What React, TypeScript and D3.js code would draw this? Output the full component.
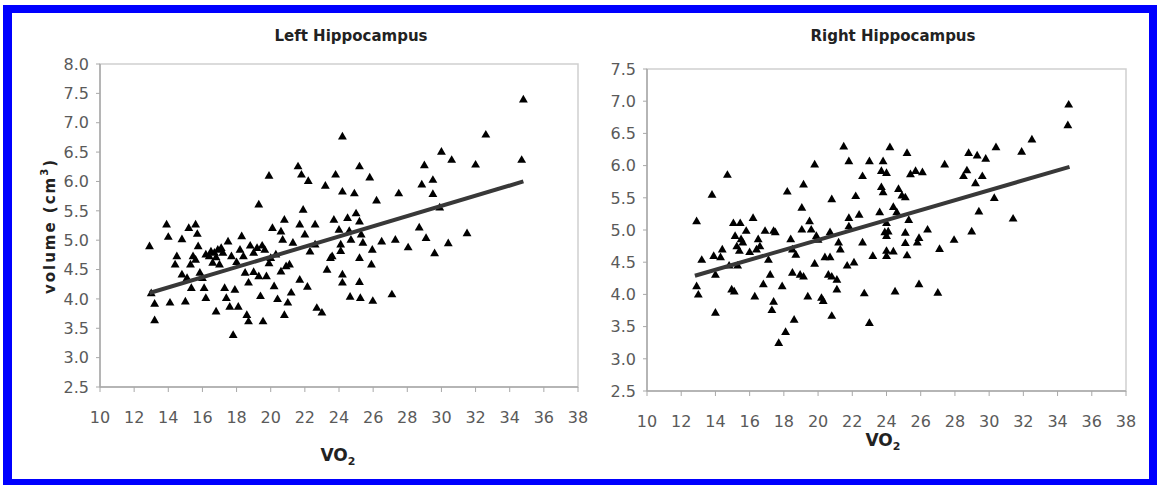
import React from 'react';
import * as d3 from 'd3';

// axis ticks
const xTicks = [10, 12, 14, 16, 18, 20, 22, 24, 26, 28, 30, 32, 34, 36, 38];
const leftYTicks = [2.5, 3.0, 3.5, 4.0, 4.5, 5.0, 5.5, 6.0, 6.5, 7.0, 7.5, 8.0];
const rightYTicks = [2.5, 3.0, 3.5, 4.0, 4.5, 5.0, 5.5, 6.0, 6.5, 7.0, 7.5];

// VO2 vs left hippocampus volume (cm3)
const leftPoints: [number, number][] = [
  [12.9, 4.89], [13.0, 4.09], [13.2, 3.91], [13.2, 3.63], [13.9, 5.26], [14.0, 5.05], [14.1, 3.93],
  [14.4, 4.58], [14.5, 4.72], [14.8, 5.01], [14.8, 4.41], [15.0, 3.95], [15.1, 4.35], [15.2, 5.2],
  [15.3, 4.58], [15.35, 4.18], [15.45, 4.72], [15.6, 5.26], [15.6, 4.66], [15.7, 5.1], [15.75, 4.89],
  [15.85, 4.44], [16.0, 4.35], [16.1, 4.18], [16.2, 4.01], [16.2, 4.75], [16.4, 4.72], [16.5, 4.8],
  [16.6, 4.61], [16.7, 4.78], [16.8, 3.78], [16.8, 4.7], [16.9, 4.83], [17.0, 4.58], [17.1, 4.86],
  [17.2, 4.78], [17.3, 4.18], [17.4, 4.01], [17.5, 4.97], [17.6, 3.86], [17.7, 4.72], [17.8, 3.38],
  [17.9, 4.15], [18.0, 4.62], [18.1, 3.86], [18.2, 4.83], [18.3, 5.06], [18.4, 4.72], [18.5, 4.44],
  [18.6, 3.72], [18.7, 4.27], [18.7, 3.61], [18.8, 4.9], [19.0, 4.78], [19.0, 4.45], [19.2, 4.86],
  [19.3, 5.6], [19.3, 4.38], [19.4, 4.04], [19.5, 4.9], [19.55, 3.61], [19.65, 4.83], [19.75, 4.38],
  [19.9, 6.09], [19.9, 4.6], [20.0, 4.69], [20.1, 5.2], [20.2, 4.21], [20.3, 4.75], [20.4, 3.99],
  [20.6, 5.14], [20.6, 4.46], [20.7, 5.0], [20.8, 5.34], [20.8, 3.72], [20.9, 4.55], [21.0, 3.93],
  [21.1, 4.58], [21.2, 4.1], [21.3, 4.95], [21.6, 6.25], [21.7, 4.32], [21.7, 5.26], [21.8, 6.11],
  [21.9, 5.51], [22.0, 5.09], [22.2, 6.0], [22.15, 4.2], [22.3, 4.8], [22.6, 5.26], [22.6, 4.92],
  [22.7, 3.84], [23.0, 3.76], [23.2, 5.92], [23.3, 4.49], [23.5, 4.69], [23.7, 5.34], [23.8, 6.11],
  [23.6, 4.72], [24.0, 5.17], [24.1, 4.92], [24.1, 4.81], [24.2, 6.76], [24.2, 5.82], [24.2, 4.41],
  [24.2, 4.27], [24.5, 5.37], [24.6, 5.15], [24.65, 4.03], [24.7, 5.0], [24.9, 5.79], [25.0, 5.45],
  [25.2, 6.25], [25.2, 5.31], [25.2, 4.69], [25.2, 4.28], [25.25, 4.01], [25.3, 5.09], [25.4, 4.95],
  [25.8, 6.06], [25.9, 4.58], [25.95, 4.83], [25.98, 3.96], [26.2, 5.67], [26.5, 4.97], [27.1, 4.07],
  [27.3, 5.0], [27.5, 5.79], [28.05, 4.87], [28.7, 5.21], [28.85, 5.94], [29.0, 6.27], [29.1, 5.03],
  [29.5, 6.02], [29.5, 5.78], [29.6, 4.77], [29.9, 5.55], [30.0, 6.5], [30.4, 4.94], [30.6, 6.36],
  [31.5, 5.11], [32.0, 6.28], [32.6, 6.79], [34.7, 6.36], [34.8, 7.39],
];

// VO2 vs right hippocampus volume (cm3)
const rightPoints: [number, number][] = [
  [12.9, 5.13], [12.9, 4.12], [13.0, 3.99], [13.2, 4.53], [13.8, 5.54], [13.9, 4.59], [14.0, 4.3],
  [14.0, 3.71], [14.3, 4.57], [14.4, 4.69], [14.7, 5.85], [14.8, 4.44], [14.95, 4.07], [15.1, 4.04],
  [15.05, 5.1], [15.15, 4.9], [15.25, 4.74], [15.3, 4.44], [15.4, 4.67], [15.45, 5.1], [15.5, 4.85],
  [15.6, 4.8], [15.8, 4.98], [16.0, 4.65], [16.2, 5.18], [16.3, 3.96], [16.4, 4.69], [16.5, 4.85],
  [16.6, 4.74], [16.8, 4.15], [16.9, 4.98], [17.1, 4.53], [17.2, 4.3], [17.3, 3.75], [17.4, 4.98],
  [17.4, 3.88], [17.5, 4.96], [17.7, 3.24], [17.9, 4.12], [18.1, 3.41], [18.2, 5.59], [18.4, 4.85],
  [18.5, 4.69], [18.5, 4.33], [18.6, 3.6], [18.7, 4.61], [18.95, 4.3], [19.05, 5.34], [19.05, 5.0],
  [19.15, 5.7], [19.15, 4.27], [19.4, 3.96], [19.5, 5.13], [19.6, 5.0], [19.8, 6.01], [19.8, 4.47],
  [19.9, 4.9], [20.0, 4.84], [20.2, 3.94], [20.3, 3.89], [20.4, 4.57], [20.6, 4.3], [20.7, 4.57],
  [20.7, 4.96], [20.8, 5.47], [20.8, 4.27], [20.8, 3.66], [21.1, 4.22], [21.1, 4.07], [21.2, 4.8],
  [21.3, 4.69], [21.5, 6.29], [21.7, 4.44], [21.8, 6.06], [21.8, 5.18], [21.8, 5.05], [22.1, 4.49],
  [22.2, 5.52], [22.4, 5.23], [22.6, 5.83], [22.6, 4.8], [22.7, 4.01], [23.0, 3.55], [23.0, 6.06],
  [23.2, 4.59], [23.6, 5.27], [23.7, 5.91], [23.7, 5.66], [23.8, 5.58], [23.8, 6.06], [23.9, 4.96],
  [24.0, 5.88], [24.0, 4.59], [24.0, 5.1], [24.1, 4.97], [24.0, 4.9], [24.0, 4.67], [24.2, 6.28],
  [24.4, 5.35], [24.4, 4.66], [24.5, 4.04], [24.6, 5.27], [24.7, 5.63], [24.9, 5.53], [25.1, 5.5],
  [25.1, 4.95], [25.1, 4.79], [25.2, 6.19], [25.2, 4.6], [25.3, 5.15], [25.4, 5.86], [25.7, 5.91],
  [25.8, 4.8], [25.9, 4.87], [25.9, 4.15], [26.1, 5.89], [26.4, 5.0], [27.0, 4.02], [27.1, 4.7],
  [27.4, 6.01], [27.95, 4.84], [28.5, 5.83], [28.7, 5.92], [28.8, 6.19], [28.98, 4.97], [29.2, 5.72],
  [29.3, 6.15], [29.4, 5.28], [29.6, 5.83], [29.8, 6.1], [30.3, 5.49], [30.4, 6.28], [31.4, 5.17],
  [31.9, 6.21], [32.5, 6.4], [34.6, 6.62], [34.65, 6.94],
];

// regression lines (end points)
const leftFitX = [12.9, 34.8];
const leftFitY = [4.1, 6.0];
const rightFitX = [12.8, 34.7];
const rightFitY = [4.29, 5.98];

const panels = [
  {
    title: 'Left Hippocampus', points: leftPoints, yTicks: leftYTicks, fitX: leftFitX, fitY: leftFitY,
    left: 100, right: 578, top: 64, bottom: 387, titleX: 351, labelX: 338, labelY: 461, yTitle: true,
  },
  {
    title: 'Right Hippocampus', points: rightPoints, yTicks: rightYTicks, fitX: rightFitX, fitY: rightFitY,
    left: 647, right: 1126, top: 69, bottom: 391, titleX: 893, labelX: 883, labelY: 446, yTitle: false,
  },
];

const tri = d3.symbol(d3.symbolTriangle, 34)() as string;
const font = 'DejaVu Sans, Verdana, sans-serif';

function Panel({ p }: { p: (typeof panels)[number] }) {
  const x = d3.scaleLinear().domain([10, 38]).range([p.left, p.right]);
  const y = d3.scaleLinear().domain([2.5, p.yTicks[p.yTicks.length - 1]]).range([p.bottom, p.top]);
  const line = d3.line<number>().x((d) => x(p.fitX[d])).y((d) => y(p.fitY[d]));
  return (
    <g>
      <text x={p.titleX} y={41} textAnchor="middle" fontFamily={font} fontWeight="bold" fontSize={15} fill="#222">
        {p.title}
      </text>
      <rect x={p.left} y={p.top} width={p.right - p.left} height={p.bottom - p.top} fill="#fff" stroke="#cfcfcf" strokeWidth={1.5} />
      <line x1={p.left} x2={p.left} y1={p.top} y2={p.bottom} stroke="#a8a8a8" strokeWidth={1.5} />
      <line x1={p.left} x2={p.right} y1={p.bottom} y2={p.bottom} stroke="#a8a8a8" strokeWidth={1.5} />
      {p.yTicks.map((t) => (
        <g key={t}>
          <line x1={p.left - 4} x2={p.left} y1={y(t)} y2={y(t)} stroke="#a8a8a8" />
          <text x={p.left - 11} y={y(t)} dy="0.36em" textAnchor="end" fontFamily={font} fontSize={16} fill="#5a5a5a">
            {t.toFixed(1)}
          </text>
        </g>
      ))}
      {xTicks.map((t) => (
        <g key={t}>
          <line x1={x(t)} x2={x(t)} y1={p.bottom} y2={p.bottom + 5} stroke="#a8a8a8" />
          <text x={x(t)} y={p.bottom + 30} dy="0.36em" textAnchor="middle" fontFamily={font} fontSize={16} fill="#5a5a5a">
            {t}
          </text>
        </g>
      ))}
      {p.points.map((d, i) => (
        <path key={i} d={tri} transform={`translate(${x(d[0])},${y(d[1])})`} fill="#000" />
      ))}
      <path d={line([0, 1]) as string} fill="none" stroke="#383838" strokeWidth={4} />
      <text x={p.labelX} y={p.labelY} textAnchor="middle" fontFamily={font} fontWeight="bold" fontSize={17} fill="#222">
        VO<tspan fontSize={11} dy={4}>2</tspan>
      </text>
      {p.yTitle && (
        <text transform="translate(55,226) rotate(-90)" textAnchor="middle" fontFamily={font} fontWeight="bold" fontSize={15}
          letterSpacing={2} fill="#222">
          volume (cm<tspan fontSize={10} dy={-7}>3</tspan><tspan dy={7}>)</tspan>
        </text>
      )}
    </g>
  );
}

export default function App() {
  return (
    <svg width={1158} height={485} style={{ position: 'absolute', left: 0, top: 0 }}>
      <rect x={0} y={0} width={1158} height={485} fill="#fff" />
      <rect x={3} y={5} width={1154} height={480} fill="#0000ff" />
      <rect x={12} y={13} width={1137} height={466} fill="#fff" />
      {panels.map((p) => (
        <Panel key={p.title} p={p} />
      ))}
    </svg>
  );
}
